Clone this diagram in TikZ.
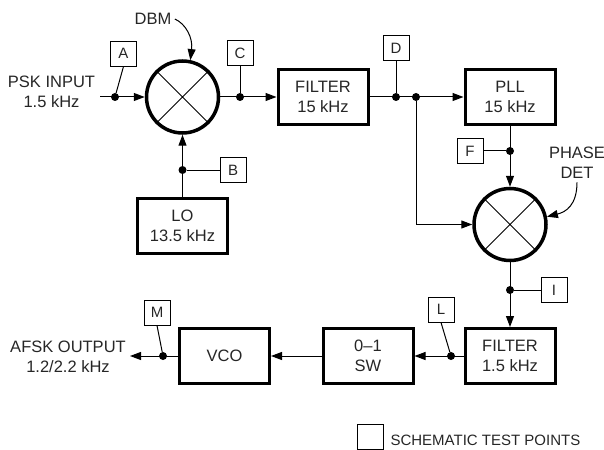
\documentclass[tikz,border=0pt]{standalone}
\usepackage{fontspec}
\setmainfont{Liberation Sans}
\usepackage{tikz}
\usetikzlibrary{arrows.meta}
\colorlet{ink}{black!85}
\tikzset{
  blk/.style={draw,line width=3pt,minimum width=90pt,minimum height=55pt,align=center,
              font=\fontsize{16.5}{20}\selectfont,text=ink},
  mix/.style={draw,circle,line width=3.5pt,minimum size=72pt,inner sep=0pt},
  tp/.style={draw,line width=0.9pt,minimum width=26pt,minimum height=25pt,inner sep=0pt,
             font=\fontsize{15}{15}\selectfont,text=ink},
  dot/.style={circle,fill,inner sep=0pt,minimum size=8pt},
  lbl/.style={align=center,font=\fontsize{16.5}{20}\selectfont,text=ink},
  wire/.style={line width=1pt},
  arr/.style={-{Triangle[length=11pt,width=8pt]},line width=1pt},
}

\begin{document}
\begin{tikzpicture}[x=1pt,y=-1pt]
  \useasboundingbox (0,0) rectangle (604,449);
  % blocks
  \node[mix] (dbm) at (182.5,97) {};
  \node[blk] (filt1) at (323,97) {FILTER\\15 kHz};
  \node[blk] (pll) at (510,97) {PLL\\15 kHz};
  \node[blk] (lo) at (182.5,226) {LO\\13.5 kHz};
  \node[mix] (phase) at (510,224.5) {};
  \node[blk] (filt2) at (510,356) {FILTER\\1.5 kHz};
  \node[blk] (sw) at (368,356) {0--1\\SW};
  \node[blk] (vco) at (224.5,356) {VCO};
  \foreach \m in {dbm,phase}
    \draw[wire] (\m.45) -- (\m.225) (\m.135) -- (\m.315);
  % labels
  \node[lbl] (psklbl) at (51.5,92) {PSK INPUT\\1.5 kHz};
  \node[lbl] (afsklbl) at (68,357) {AFSK OUTPUT\\1.2/2.2 kHz};
  \node[lbl] (dbmlbl) at (153,19) {DBM};
  \node[lbl] (phlbl) at (577,163) {PHASE\\DET};
  \coordinate (psk) at (100,97);
  \coordinate (afsk) at (130,356);
  % junctions
  \node[dot] (dA) at (115,97) {};
  \node[dot] (dC) at (240,97) {};
  \node[dot] (dB) at (182.5,170) {};
  \node[dot] (dD) at (396,97) {};
  \node[dot] (jn) at (416,97) {};
  \node[dot] (dF) at (510,151) {};
  \node[dot] (dI) at (510,290) {};
  \node[dot] (dL) at (451,356) {};
  \node[dot] (dM) at (163,356) {};
  % test points
  \node[tp] (tpA) at (123.5,53.5) {A};
  \node[tp] (tpC) at (240,53) {C};
  \node[tp] (tpB) at (233,170) {B};
  \node[tp] (tpD) at (396,48) {D};
  \node[tp] (tpF) at (470,151) {F};
  \node[tp] (tpI) at (554,290) {I};
  \node[tp] (tpL) at (441,309.5) {L};
  \node[tp] (tpM) at (157,312.5) {M};
  \draw[wire] (tpA.south) -- (dA);
  \draw[wire] (tpC) -- (dC);
  \draw[wire] (tpB) -- (dB);
  \draw[wire] (tpD) -- (dD);
  \draw[wire] (tpF) -- (dF);
  \draw[wire] (tpI) -- (dI);
  \draw[wire] (tpL.south) -- (dL);
  \draw[wire] (tpM.south) -- (dM);
  % signal path
  \draw[arr] (psk) -- (dbm);
  \draw[arr] (dbm) -- (filt1);
  \draw[arr] (lo) -- (dbm);
  \draw[arr] (filt1) -- (pll);
  \draw[arr] (jn) |- (phase);
  \draw[arr] (pll) -- (phase);
  \draw[arr] (phase) -- (filt2);
  \draw[arr] (filt2) -- (sw);
  \draw[arr] (sw) -- (vco);
  \draw[arr] (vco) -- (afsk);
  \draw[arr] (dbmlbl.east) .. controls (186,24) and (193,38) .. (dbm.78);
  \draw[arr] (phlbl.south) .. controls (577,205) and (566,212) .. (phase.12);
  % legend
  \node[tp] (leg) at (370,437) {};
  \node[lbl,anchor=west,font=\fontsize{15}{20}\selectfont] (legtxt) at (387,440) {SCHEMATIC TEST POINTS};
\end{tikzpicture}
\end{document}
